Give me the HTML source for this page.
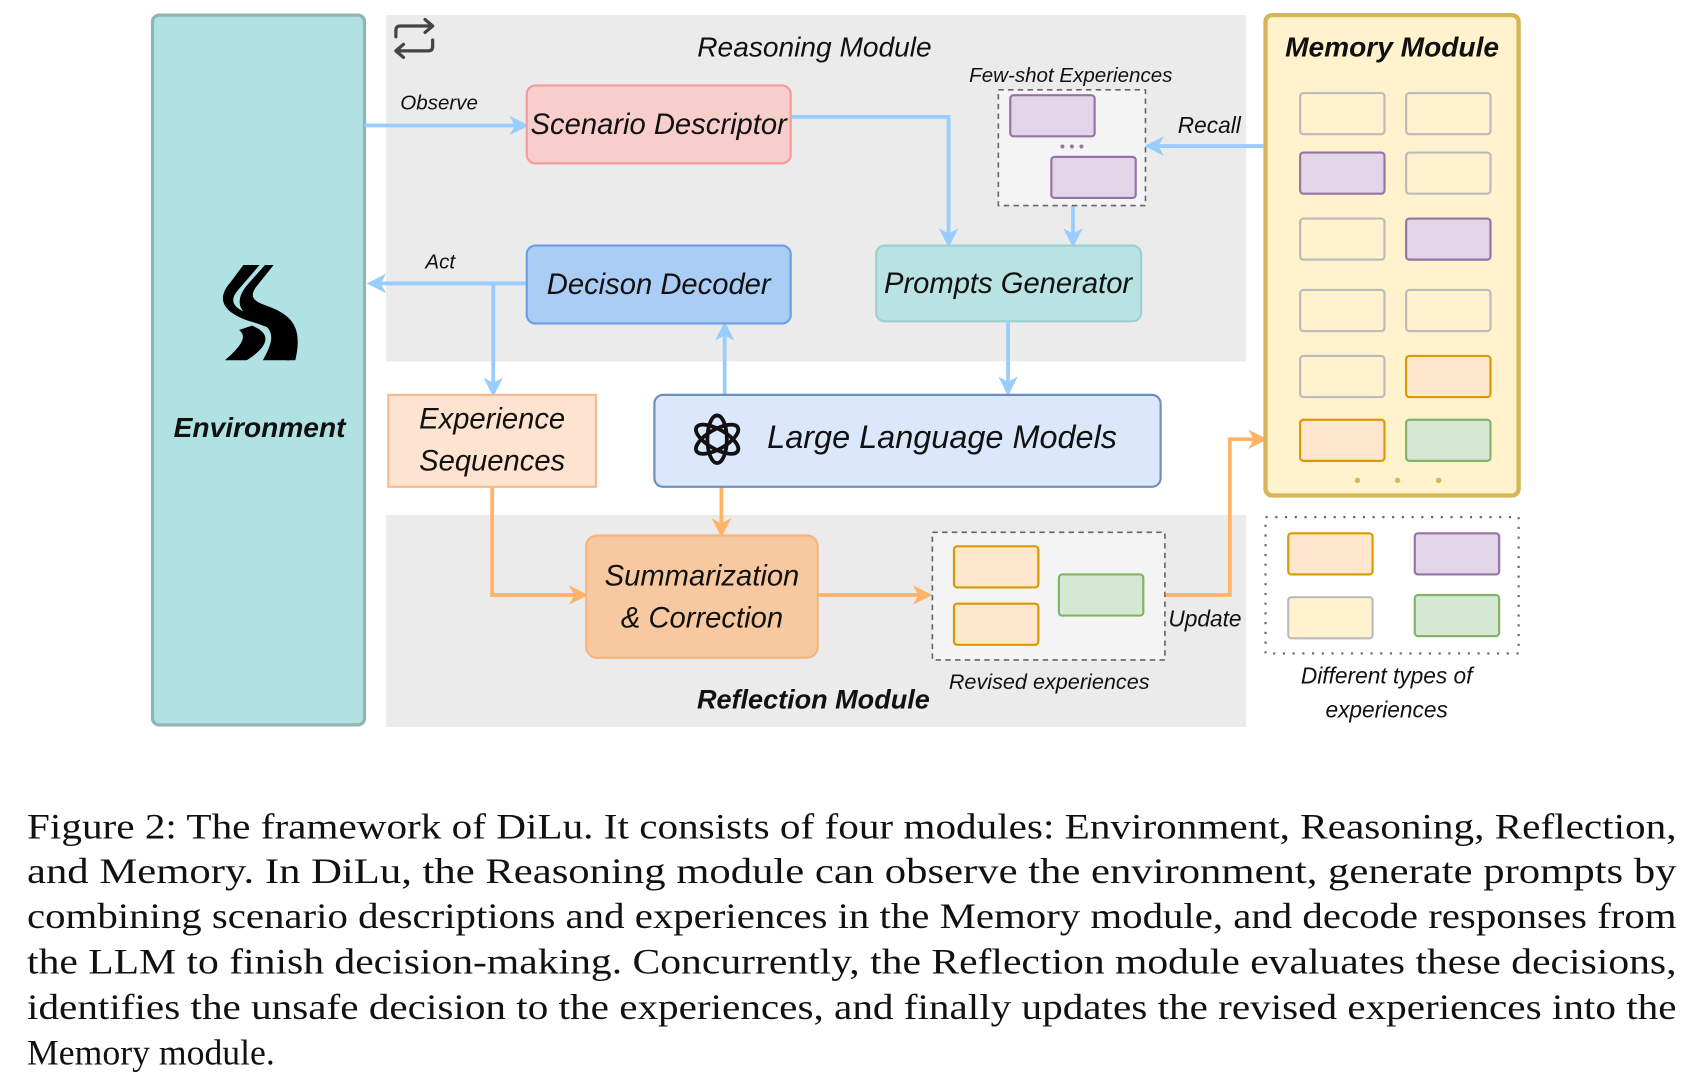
<!DOCTYPE html>
<html><head><meta charset="utf-8"><style>
html,body{margin:0;padding:0;background:#fff;width:1696px;height:1084px;overflow:hidden}
svg{display:block}
.h{font-family:"Liberation Sans",sans-serif;font-style:italic;fill:#111}
.c{font-family:"Liberation Serif",serif;font-size:33px;fill:#111}
</style></head><body>
<svg width="1696" height="1084" viewBox="0 0 1568 1002" preserveAspectRatio="none" xmlns="http://www.w3.org/2000/svg">
<defs>
<marker id="ab" markerWidth="18" markerHeight="18" refX="14" refY="9" orient="auto" markerUnits="userSpaceOnUse" viewBox="0 0 18 18"><path d="M0,0 L18,9 L0,18 L5,9 z" fill="#99ccff"/></marker>
<marker id="ao" markerWidth="18" markerHeight="18" refX="14" refY="9" orient="auto" markerUnits="userSpaceOnUse" viewBox="0 0 18 18"><path d="M0,0 L18,9 L0,18 L5,9 z" fill="#ffb366"/></marker>
</defs>
<style>
.ab{stroke:#99ccff;stroke-width:3.5;fill:none}
.ao{stroke:#ffb366;stroke-width:3.5;fill:none}
</style>
<rect x="357" y="14" width="795" height="320" fill="#ebebeb"/>
<rect x="357" y="476" width="795" height="196" fill="#ebebeb"/>
<rect x="141" y="14" width="196" height="656" rx="6" fill="#b0e2e4" stroke="#8fb5b5" stroke-width="3"/>
<g transform="translate(203,245)">
<path d="M22,0 L37,0 L18,22 C8,33 12,40 30,46 C62,56 72,66 65,88 L62,88 C64,68 56,60 28,52 C4,44 -4,32 10,16 Z" fill="#000"/>
<path d="M42,0 L50,0 L34,20 C28,28 30,33 42,37 C68,46 77,58 70,88 L40,88 C50,70 52,60 36,52 C16,44 14,32 26,18 Z" fill="#000"/>
<path d="M30,56 C50,64 44,76 25,88 L5,88 C20,75 26,66 18,60 Z" fill="#000"/>
</g>
<text class="h" x="240" y="404" font-size="26" font-weight="bold" text-anchor="middle">Environment</text>
<g stroke="#444" stroke-width="3" fill="none" stroke-linecap="round" stroke-linejoin="round">
<path d="M366,34 V28 Q366,24 370,24 H400 M393,18 L400,24 L393,30"/>
<path d="M400,37 V43 Q400,47 396,47 H366 M373,53 L366,47 L373,41"/>
</g>
<text class="h" x="753" y="52" font-size="26" text-anchor="middle">Reasoning Module</text>
<text class="h" x="752" y="655" font-size="25" font-weight="bold" text-anchor="middle">Reflection Module</text>
<path class="ab" d="M337,116 H485" marker-end="url(#ab)"/>
<path class="ab" d="M731,108 H877 V225" marker-end="url(#ab)"/>
<path class="ab" d="M992,190 V225" marker-end="url(#ab)"/>
<path class="ab" d="M1168,135 H1062" marker-end="url(#ab)"/>
<path class="ab" d="M487,262 H343" marker-end="url(#ab)"/>
<path class="ab" d="M456,262 V363" marker-end="url(#ab)"/>
<path class="ab" d="M670,365 V301" marker-end="url(#ab)"/>
<path class="ab" d="M932,297 V362" marker-end="url(#ab)"/>
<path class="ao" d="M667,450 V493" marker-end="url(#ao)"/>
<path class="ao" d="M455,450 V550 H540" marker-end="url(#ao)"/>
<path class="ao" d="M756,550 H858" marker-end="url(#ao)"/>
<path class="ao" d="M1078,550 H1137 V406 H1168" marker-end="url(#ao)"/>
<rect x="487" y="79" width="244" height="72" rx="8" fill="#f8cecc" stroke="#f19c99" stroke-width="2"/>
<text class="h" x="609" y="124" font-size="27" text-anchor="middle">Scenario Descriptor</text>
<rect x="487" y="227" width="244" height="72" rx="8" fill="#a9cdf5" stroke="#6c9ee8" stroke-width="2"/>
<text class="h" x="609" y="272" font-size="27" text-anchor="middle">Decison Decoder</text>
<rect x="810" y="227" width="245" height="70" rx="8" fill="#b9e2e2" stroke="#9dcfcf" stroke-width="2"/>
<text class="h" x="932" y="271" font-size="27" text-anchor="middle">Prompts Generator</text>
<rect x="359" y="365" width="192" height="85" fill="#fde3d0" stroke="#f6b98f" stroke-width="2"/>
<text class="h" x="455" y="396" font-size="27" text-anchor="middle">Experience</text>
<text class="h" x="455" y="435" font-size="27" text-anchor="middle">Sequences</text>
<rect x="605" y="365" width="468" height="85" rx="8" fill="#dbe8fb" stroke="#6c8ebf" stroke-width="2"/>
<g transform="translate(663,406)" fill="none" stroke="#111" stroke-width="3.5">
<ellipse rx="9" ry="22"/>
<ellipse rx="9" ry="22" transform="rotate(60)"/>
<ellipse rx="9" ry="22" transform="rotate(120)"/>
</g>
<text class="h" x="871" y="414" font-size="30" text-anchor="middle">Large Language Models</text>
<rect x="542" y="495" width="214" height="113" rx="10" fill="#f8c9a0" stroke="#f5b57c" stroke-width="2"/>
<text class="h" x="649" y="541" font-size="27" text-anchor="middle">Summarization</text>
<text class="h" x="649" y="580" font-size="27" text-anchor="middle">&amp; Correction</text>
<text class="h" x="990" y="76" font-size="19" text-anchor="middle">Few-shot Experiences</text>
<rect x="923" y="83" width="136" height="107" fill="#f4f4f4" stroke="#666" stroke-width="1.5" stroke-dasharray="5,4"/>
<rect x="934" y="88" width="78" height="38" rx="3" fill="#e1d5e7" stroke="#9673a6" stroke-width="2"/>
<rect x="972" y="145" width="78" height="38" rx="3" fill="#e1d5e7" stroke="#9673a6" stroke-width="2"/>
<text x="991" y="140" font-size="14" text-anchor="middle" fill="#9673a6" font-family="Liberation Sans">• • •</text>
<text class="h" x="1118" y="123" font-size="21" text-anchor="middle">Recall</text>
<text class="h" x="406" y="101" font-size="19" text-anchor="middle">Observe</text>
<text class="h" x="407" y="248" font-size="19" text-anchor="middle">Act</text>
<rect x="862" y="492" width="215" height="118" fill="#f4f4f4" stroke="#666" stroke-width="1.5" stroke-dasharray="5,4"/>
<rect x="882" y="505" width="78" height="38" rx="3" fill="#ffe6cc" stroke="#d79b00" stroke-width="2"/>
<rect x="882" y="558" width="78" height="38" rx="3" fill="#ffe6cc" stroke="#d79b00" stroke-width="2"/>
<rect x="979" y="531" width="78" height="38" rx="3" fill="#d5e8d4" stroke="#82b366" stroke-width="2"/>
<text class="h" x="970" y="637" font-size="20" text-anchor="middle">Revised experiences</text>
<text class="h" x="1114" y="579" font-size="21" text-anchor="middle">Update</text>
<rect x="1170" y="14" width="234" height="444" rx="6" fill="#fff2cc" stroke="#d6b656" stroke-width="4"/>
<text class="h" x="1287" y="52" font-size="26" font-weight="bold" text-anchor="middle">Memory Module</text>
<g stroke-width="2">
<rect x="1202" y="86" width="78" height="38" rx="3" fill="#fff2cc" stroke="#bbb"/>
<rect x="1300" y="86" width="78" height="38" rx="3" fill="#fff2cc" stroke="#bbb"/>
<rect x="1202" y="141" width="78" height="38" rx="3" fill="#e1d5e7" stroke="#9673a6"/>
<rect x="1300" y="141" width="78" height="38" rx="3" fill="#fff2cc" stroke="#bbb"/>
<rect x="1202" y="202" width="78" height="38" rx="3" fill="#fff2cc" stroke="#bbb"/>
<rect x="1300" y="202" width="78" height="38" rx="3" fill="#e1d5e7" stroke="#9673a6"/>
<rect x="1202" y="268" width="78" height="38" rx="3" fill="#fff2cc" stroke="#bbb"/>
<rect x="1300" y="268" width="78" height="38" rx="3" fill="#fff2cc" stroke="#bbb"/>
<rect x="1202" y="329" width="78" height="38" rx="3" fill="#fff2cc" stroke="#bbb"/>
<rect x="1300" y="329" width="78" height="38" rx="3" fill="#ffe6cc" stroke="#d79b00"/>
<rect x="1202" y="388" width="78" height="38" rx="3" fill="#ffe6cc" stroke="#d79b00"/>
<rect x="1300" y="388" width="78" height="38" rx="3" fill="#d5e8d4" stroke="#82b366"/>
</g>
<circle cx="1255" cy="444" r="2.5" fill="#d6b656"/><circle cx="1292" cy="444" r="2.5" fill="#d6b656"/><circle cx="1330" cy="444" r="2.5" fill="#d6b656"/>
<rect x="1170" y="478" width="234" height="126" fill="none" stroke="#666" stroke-width="2" stroke-dasharray="2,7"/>
<g stroke-width="2">
<rect x="1191" y="493" width="78" height="38" rx="3" fill="#ffe6cc" stroke="#d79b00"/>
<rect x="1308" y="493" width="78" height="38" rx="3" fill="#e1d5e7" stroke="#9673a6"/>
<rect x="1191" y="552" width="78" height="38" rx="3" fill="#fff2cc" stroke="#bbb"/>
<rect x="1308" y="550" width="78" height="38" rx="3" fill="#d5e8d4" stroke="#82b366"/>
</g>
<text class="h" x="1282" y="632" font-size="21" text-anchor="middle">Different types of</text>
<text class="h" x="1282" y="663" font-size="21" text-anchor="middle">experiences</text>
<text class="c" x="25" y="775" textLength="1525" lengthAdjust="spacingAndGlyphs">Figure 2: The framework of DiLu. It consists of four modules: Environment, Reasoning, Reflection,</text>
<text class="c" x="25" y="816" textLength="1525" lengthAdjust="spacingAndGlyphs">and Memory.  In DiLu, the Reasoning module can observe the environment, generate prompts by</text>
<text class="c" x="25" y="858" textLength="1525" lengthAdjust="spacingAndGlyphs">combining scenario descriptions and experiences in the Memory module, and decode responses from</text>
<text class="c" x="25" y="900" textLength="1525" lengthAdjust="spacingAndGlyphs">the LLM to finish decision-making. Concurrently, the Reflection module evaluates these decisions,</text>
<text class="c" x="25" y="942" textLength="1525" lengthAdjust="spacingAndGlyphs">identifies the unsafe decision to the experiences, and finally updates the revised experiences into the</text>
<text class="c" x="25" y="984">Memory module.</text>
</svg>
</body></html>
